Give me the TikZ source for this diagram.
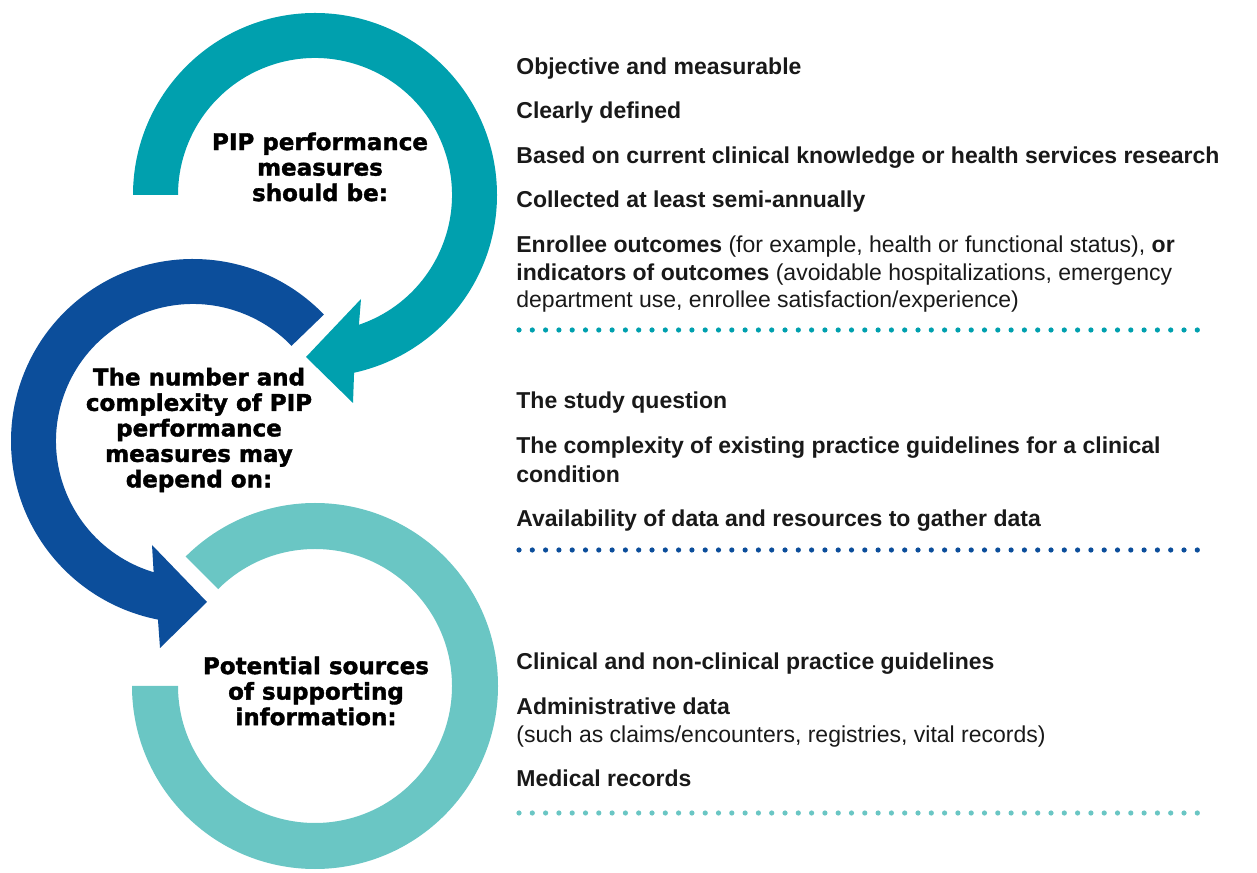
\documentclass[tikz,border=0pt]{standalone}
\usepackage{fontspec}
\setmainfont{Liberation Sans}
\newfontfamily\headfont{DejaVu Sans}[BoldFeatures={FakeBold=1.6}]
\usetikzlibrary{calc}
\definecolor{tealA}{RGB}{0,160,174}
\definecolor{blueB}{RGB}{12,78,155}
\definecolor{tealC}{RGB}{106,198,196}
\definecolor{txt}{RGB}{25,25,25}
\begin{document}
\begin{tikzpicture}[x=0.5pt,y=0.5pt,
  item/.style={anchor=base west, inner sep=0pt, font=\fontsize{11.5}{13.75}\selectfont\bfseries, text=txt},
  plain/.style={anchor=base west, inner sep=0pt, font=\fontsize{11.5}{13.75}\selectfont, text=txt},
  head/.style={align=center, inner sep=0pt, font=\headfont\bfseries\fontsize{11.5}{12.75}\selectfont, text=black}]
\useasboundingbox (0,0) rectangle (1257,872);
\coordinate (C1) at (315,677);
\coordinate (C2) at (193,431);
\coordinate (C3) at (315,186);
% light ring (third)
\fill[tealC] ($(C3)+(180:183)$) arc[start angle=180, end angle=495, radius=183]
  -- ($(C3)+(135:137)$) arc[start angle=135, end angle=-180, radius=137] -- cycle;
% blue arrow (second)
\fill[blueB] ($(C2)+(44:137)$) -- ($(C2)+(44:182)$) arc[start angle=44, end angle=258.9, radius=182]
  -- (160,224) -- (207,270) -- (152,327)
  -- ($(C2)+(253.3:137)$) arc[start angle=253.3, end angle=44, radius=137] -- cycle;
% teal arrow (first)
\fill[tealA] ($(C1)+(180:182)$) arc[start angle=180, end angle=-77.6, radius=182]
  -- (353,469) -- (306,515) -- (361,573)
  -- ($(C1)+(-71.3:137)$) arc[start angle=-71.3, end angle=180, radius=137] -- cycle;
% headings
\node[head] (t1) at (320,705) {PIP performance\\measures\\should be:};
\node[head] (t2) at (199,442) {The number and\\complexity of PIP\\performance\\measures may\\depend on:};
\node[head] (t3) at (316,181) {Potential sources\\of supporting\\information:};
% first list
\node[item] (a1) at (516,797) {Objective and measurable};
\node[item] (a2) at (516,753) {Clearly defined};
\node[item] (a3) at (516,708) {Based on current clinical knowledge or health services research};
\node[item] (a4) at (516,664) {Collected at least semi-annually};
\node[item] (a5) at (516,619) {Enrollee outcomes \mdseries(for example, health or functional status), \bfseries or};
\node[item] (a6) at (516,591) {indicators of outcomes \mdseries(avoidable hospitalizations, emergency};
\node[plain] (a7) at (516,564) {department use, enrollee satisfaction/experience)};
\foreach \i in {0,...,51} \fill[tealA] (519+\i*13.3,542) circle[radius=2.6];
% second list
\node[item] (b1) at (516,463) {The study question};
\node[item] (b2) at (516,418) {The complexity of existing practice guidelines for a clinical};
\node[item] (b3) at (516,389) {condition};
\node[item] (b4) at (516,345) {Availability of data and resources to gather data};
\foreach \i in {0,...,51} \fill[blueB] (519+\i*13.3,322) circle[radius=2.6];
% third list
\node[item] (c1) at (516,202) {Clinical and non-clinical practice guidelines};
\node[item] (c2) at (516,157) {Administrative data};
\node[plain] (c3) at (516,129) {(such as claims/encounters, registries, vital records)};
\node[item] (c4) at (516,85) {Medical records};
\foreach \i in {0,...,51} \fill[tealC] (519+\i*13.3,59) circle[radius=2.6];
\end{tikzpicture}
\end{document}
